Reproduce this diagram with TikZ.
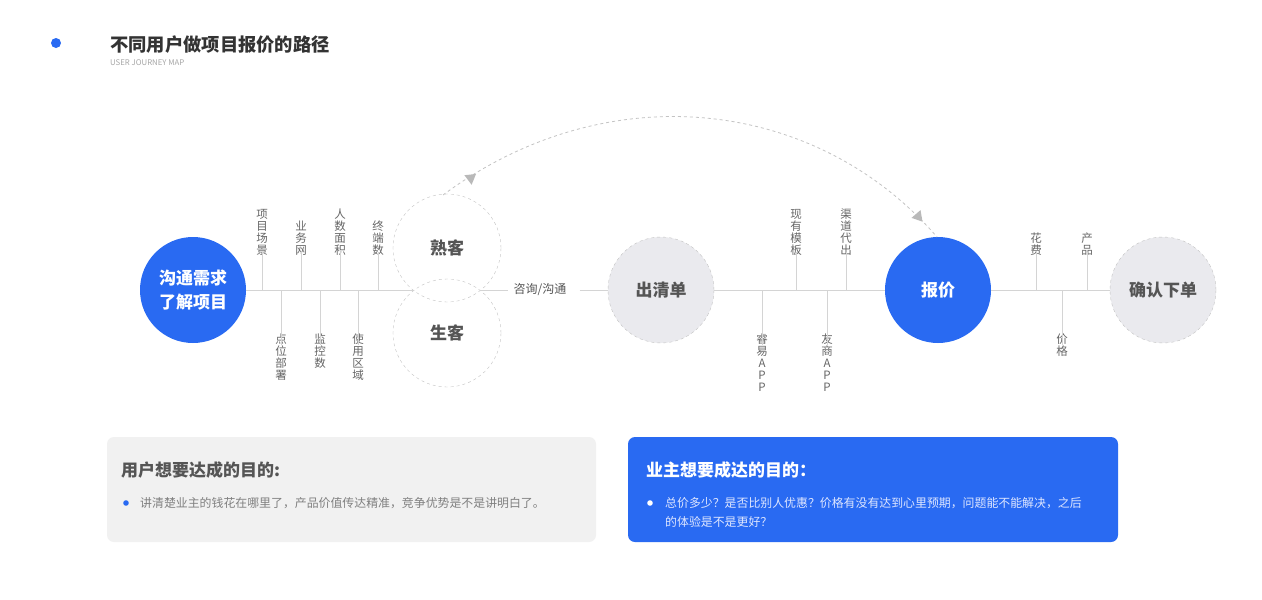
\documentclass[tikz,border=0pt]{standalone}
\usepackage{fontspec}
\setmainfont{Noto Sans CJK SC}
\usetikzlibrary{arrows.meta}
\definecolor{mainblue}{RGB}{41,106,242}
\definecolor{linegray}{RGB}{212,212,212}
\definecolor{dashgray}{RGB}{195,195,195}
\definecolor{arrowgray}{RGB}{185,185,185}
\definecolor{txtgray}{RGB}{102,102,102}
\definecolor{darktxt}{RGB}{85,85,85}
\definecolor{circfill}{RGB}{234,234,238}
\definecolor{boxgray}{RGB}{241,241,241}
\definecolor{lighttxt}{RGB}{222,230,255}
\tikzset{
  mainline/.style={draw=linegray, line width=1pt},
  tickline/.style={draw=linegray, line width=1pt},
  vtxt/.style={font=\fontsize{11.5}{12}\selectfont, text=txtgray, align=center, inner sep=0pt},
  bluecirc/.style={circle, fill=mainblue, minimum size=106pt, inner sep=0pt, text=white, align=center, font=\fontsize{17}{24}\selectfont\bfseries},
  graycirc/.style={circle, fill=circfill, draw=dashgray, dashed, minimum size=106pt, inner sep=0pt, text=darktxt, align=center, font=\fontsize{17}{24}\selectfont\bfseries},
  whitecirc/.style={circle, draw=dashgray, dashed, minimum size=108pt, inner sep=0pt, text=darktxt, align=center, font=\fontsize{17}{24}\selectfont\bfseries},
  arcline/.style={draw=dashgray, line width=0.8pt, dash pattern=on 3pt off 3pt},
  arrowhead/.style={fill=arrowgray},
  boxtitle/.style={anchor=west, inner sep=0pt, font=\fontsize{17}{20}\selectfont\bfseries},
  boxbody/.style={anchor=north west, inner sep=0pt, align=left, font=\fontsize{11.9}{19}\selectfont},
}
\begin{document}
\begin{tikzpicture}[x=1pt,y=-1pt]
\useasboundingbox (0,0) rectangle (1262,600);
\fill[white] (0,0) rectangle (1262,600);

% title
\fill[mainblue] (56,43) circle (5pt);
\node[anchor=west, inner sep=0pt, text=black!80, font=\fontsize{18.3}{20}\selectfont\bfseries] (title) at (110,45) {不同用户做项目报价的路径};
\node[anchor=west, inner sep=0pt, text=black!35, font=\fontsize{7.8}{8}\selectfont] (subtitle) at (110,63) {USER JOURNEY MAP};

% circles
\node[bluecirc] (lc) at (193,290) {沟通需求\\了解项目};
\node[whitecirc] (sk) at (447,248) {熟客};
\node[whitecirc] (xk) at (447,333) {生客};
\node[graycirc] (qd) at (661,290) {出清单};
\node[bluecirc] (bj) at (938,290) {报价};
\node[graycirc] (qr) at (1163,290) {确认下单};

% main line
\coordinate (ia) at (414,290);
\coordinate (ib) at (480,290);
\node[inner sep=0pt, text=darktxt, font=\fontsize{12}{14}\selectfont] (zx) at (540,290) {咨询/沟通};
\draw[mainline] (lc.east) -- (ia);
\draw[mainline] (ib) -- ([xshift=-5pt]zx.west);
\draw[mainline] ([xshift=13pt]zx.east) -- (qd.west);
\draw[mainline] (qd.east) -- (bj.west);
\draw[mainline] (bj.east) -- (qr.west);

% top labels
\foreach \x/\t/\n in {262/{项\\目\\场\\景}/a1, 301/{业\\务\\网}/a2, 340/{人\\数\\面\\积}/a3, 378/{终\\端\\数}/a4,
                     796/{现\\有\\模\\板}/a5, 846/{渠\\道\\代\\出}/a6, 1036/{花\\费}/a7, 1087/{产\\品}/a8}{
  \coordinate (b\n) at (\x,290);
  \node[vtxt, anchor=south] (\n) at (\x,256) {\t};
  \draw[tickline] (b\n) -- ([yshift=4pt]\n.south);
}
% bottom labels
\foreach \x/\t/\n in {281/{点\\位\\部\\署}/c1, 320/{监\\控\\数}/c2, 358/{使\\用\\区\\域}/c3,
                     762/{睿\\易\\A\\P\\P}/c4, 827/{友\\商\\A\\P\\P}/c5, 1062/{价\\格}/c6}{
  \coordinate (b\n) at (\x,290);
  \node[vtxt, anchor=north] (\n) at (\x,334) {\t};
  \draw[tickline] (b\n) -- ([yshift=-11pt]\n.north);
}

% arc
\coordinate (as) at (443,195);
\coordinate (ae) at (937,237);
\draw[arcline] (as) .. controls (608,73) and (817,98) .. (ae);
\fill[arrowhead] (476,174) -- (471.6,184.8) -- (464.4,175.2) -- cycle;
\fill[arrowhead] (922.5,221.6) -- (920.5,210.1) -- (911.5,217.9) -- cycle;

% bottom boxes
\fill[boxgray, rounded corners=7pt] (107,437) rectangle (596,542);
\node[boxtitle, text=darktxt] (ut) at (121,470) {用户想要达成的目的:};
\fill[mainblue] (126,503) circle (2.8pt);
\node[boxbody, text=black!50, anchor=west] (ub) at (140,503) {讲清楚业主的钱花在哪里了，产品价值传达精准，竞争优势是不是讲明白了。};

\fill[mainblue, rounded corners=7pt] (628,437) rectangle (1118,542);
\node[boxtitle, text=white] (ot) at (646,470) {业主想要成达的目的：};
\fill[white] (650,503) circle (2.8pt);
\node[boxbody, text=lighttxt] (ob) at (665,497) {总价多少？是否比别人优惠？价格有没有达到心里预期，问题能不能解决，之后\\的体验是不是更好？};
\end{tikzpicture}
\end{document}
